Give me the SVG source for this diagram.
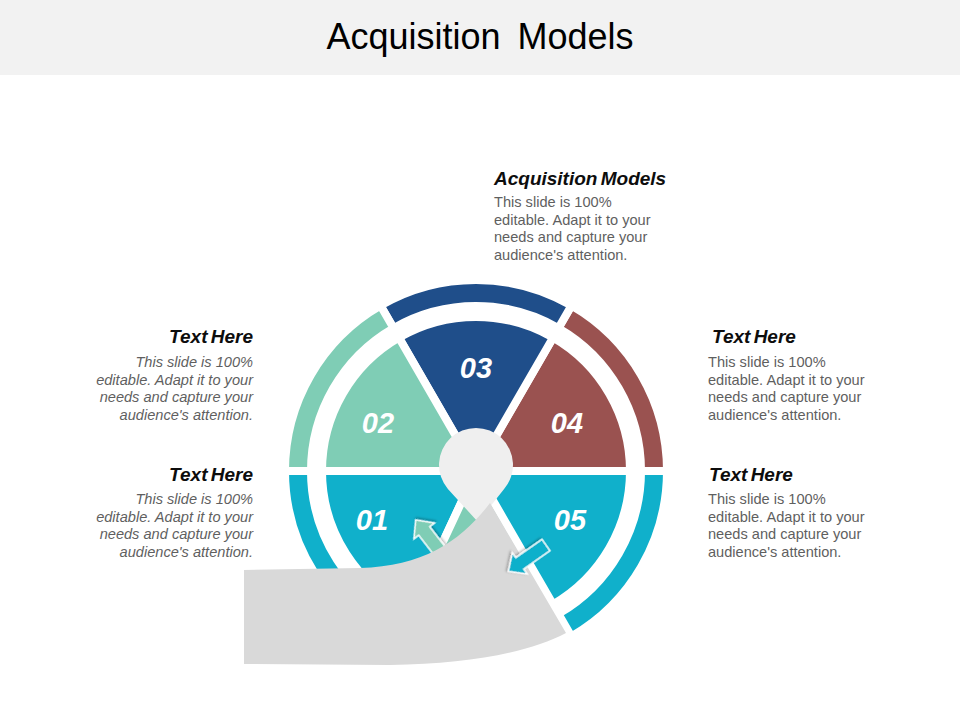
<svg xmlns="http://www.w3.org/2000/svg" width="960" height="720" viewBox="0 0 960 720">
  <style>
    .seg { stroke: #ffffff; stroke-width: 8; }
    .num { font-family: "Liberation Sans", Arial, sans-serif; font-weight: bold; font-style: italic; font-size: 29px; fill: #ffffff; text-anchor: middle; }
    .ttl { font-family: "Liberation Sans", Arial, sans-serif; font-weight: bold; font-style: italic; font-size: 19px; fill: #0d0d0d; word-spacing: -2px; }
    .body { font-family: "Liberation Sans", Arial, sans-serif; font-size: 14.6px; fill: #5f5f5f; }
    .it { font-style: italic; }
    .arrow { stroke: #ffffff; stroke-width: 1.5; filter: url(#sh); }
  </style>
  <defs>
    <filter id="sh" x="-30%" y="-30%" width="160%" height="160%">
      <feDropShadow dx="1" dy="1.5" stdDeviation="1.2" flood-color="#000000" flood-opacity="0.3"/>
    </filter>
  </defs>

  <rect x="0" y="0" width="960" height="720" fill="#ffffff"/>
  <g id="header">
    <rect x="0" y="0" width="960" height="75" fill="#f2f2f2"/>
    <text x="480" y="49" text-anchor="middle" font-family="Liberation Sans, Arial, sans-serif" font-size="36" fill="#000000" word-spacing="7">Acquisition Models</text>
  </g>

  <g id="ring">
    <path class="seg" fill="#9a5250" d="M667,471 A191,191 0 0 0 571.5,305.59 L558.5,328.11 A165,165 0 0 1 641,471 Z"/>
    <path class="seg" fill="#1f4e8a" d="M571.5,305.59 A191,191 0 0 0 380.5,305.59 L393.5,328.11 A165,165 0 0 1 558.5,328.11 Z"/>
    <path class="seg" fill="#7fcdb5" d="M380.5,305.59 A191,191 0 0 0 285,471 L311,471 A165,165 0 0 1 393.5,328.11 Z"/>
    <path class="seg" fill="#10b0cb" d="M285,471 A191,191 0 0 0 395.28,644.1 L406.27,620.54 A165,165 0 0 1 311,471 Z"/>
    <path class="seg" fill="#10b0cb" d="M571.5,636.41 A191,191 0 0 0 667,471 L641,471 A165,165 0 0 1 558.5,613.89 Z"/>
  </g>

  <g id="node-04">
    <path class="seg" fill="#9a5250" d="M476,471 L630,471 A154,154 0 0 0 553,337.63 Z"/>
    <text class="num" x="567" y="433">04</text>
  </g>
  <g id="node-03">
    <path class="seg" fill="#1f4e8a" d="M476,471 L553,337.63 A154,154 0 0 0 399,337.63 Z"/>
    <text class="num" x="476" y="378">03</text>
  </g>
  <g id="node-02">
    <path class="seg" fill="#7fcdb5" d="M476,471 L399,337.63 A154,154 0 0 0 322,471 Z"/>
    <text class="num" x="378" y="433">02</text>
  </g>
  <g id="node-01">
    <path class="seg" fill="#10b0cb" d="M476,471 L322,471 A154,154 0 0 0 410.92,610.57 Z"/>
    <text class="num" x="372" y="530">01</text>
  </g>
  <g id="node-bottom">
    <path class="seg" fill="#7fcdb5" d="M476,471 L410.92,610.57 A154,154 0 0 0 553,604.37 Z"/>
  </g>
  <g id="node-05">
    <path class="seg" fill="#10b0cb" d="M476,471 L553,604.37 A154,154 0 0 0 630,471 Z"/>
    <text class="num" x="570" y="530">05</text>
  </g>

  <g id="arrow-mint">
    <path class="arrow" fill="#7fcdb5" transform="translate(443.8,556.3) rotate(-127.7)" d="M0,-7 L32,-7 L32,-13 L46,0 L32,13 L32,7 L0,7 Z"/>
  </g>

  <g id="center">
    <path fill="#efefef" d="M447.9,489 A37,37 0 1 1 504.1,489 L478,522 Z"/>
  </g>

  <g id="gray-shape">
    <path fill="#d9d9d9" d="M244,570 L360,568 C425,566 462,540 490,503 L566,633 C530,652 470,664 390,665 L244,664 Z"/>
  </g>

  <g id="arrow-cyan">
    <path class="arrow" fill="#10b0cb" transform="translate(546,545) rotate(145)" d="M0,-7 L32,-7 L32,-13 L46,0 L32,13 L32,7 L0,7 Z"/>
  </g>

  <g id="text-top">
    <text class="ttl" x="494" y="185">Acquisition Models</text>
    <text class="body" x="494" y="207">This slide is 100%</text>
    <text class="body" x="494" y="224.5">editable. Adapt it to your</text>
    <text class="body" x="494" y="242">needs and capture your</text>
    <text class="body" x="494" y="259.5">audience's attention.</text>
  </g>

  <g id="text-left-1">
    <text class="ttl" x="253" y="343" text-anchor="end">Text Here</text>
    <text class="body it" x="253" y="367" text-anchor="end">This slide is 100%</text>
    <text class="body it" x="253" y="384.5" text-anchor="end">editable. Adapt it to your</text>
    <text class="body it" x="253" y="402" text-anchor="end">needs and capture your</text>
    <text class="body it" x="253" y="419.5" text-anchor="end">audience's attention.</text>
  </g>

  <g id="text-left-2">
    <text class="ttl" x="253" y="481" text-anchor="end">Text Here</text>
    <text class="body it" x="253" y="504" text-anchor="end">This slide is 100%</text>
    <text class="body it" x="253" y="521.5" text-anchor="end">editable. Adapt it to your</text>
    <text class="body it" x="253" y="539" text-anchor="end">needs and capture your</text>
    <text class="body it" x="253" y="556.5" text-anchor="end">audience's attention.</text>
  </g>

  <g id="text-right-1">
    <text class="ttl" x="712" y="343">Text Here</text>
    <text class="body" x="708" y="367">This slide is 100%</text>
    <text class="body" x="708" y="384.5">editable. Adapt it to your</text>
    <text class="body" x="708" y="402">needs and capture your</text>
    <text class="body" x="708" y="419.5">audience's attention.</text>
  </g>

  <g id="text-right-2">
    <text class="ttl" x="709" y="481">Text Here</text>
    <text class="body" x="708" y="504">This slide is 100%</text>
    <text class="body" x="708" y="521.5">editable. Adapt it to your</text>
    <text class="body" x="708" y="539">needs and capture your</text>
    <text class="body" x="708" y="556.5">audience's attention.</text>
  </g>
</svg>
